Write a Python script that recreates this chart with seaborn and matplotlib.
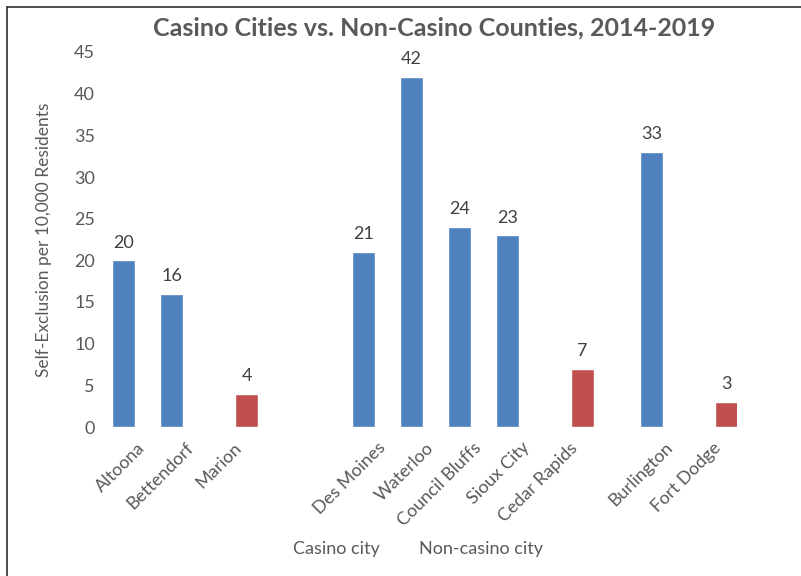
import matplotlib
matplotlib.use("Agg")
import matplotlib.pyplot as plt
from matplotlib.lines import Line2D
import pandas as pd
import seaborn as sns

# Self-exclusion rates per 10,000 residents, 2014-2019
cities = ["Altoona", "Bettendorf", "Marion", "Des Moines", "Waterloo",
          "Council Bluffs", "Sioux City", "Cedar Rapids", "Burlington", "Fort Dodge"]
rates = [20, 16, 4, 21, 42, 24, 23, 7, 33, 3]
city_types = ["Casino city", "Casino city", "Non-casino city", "Casino city", "Casino city",
              "Casino city", "Casino city", "Non-casino city", "Casino city", "Non-casino city"]

# Axis order, with blank slots separating the county groups
axis_order = ["Altoona", "Bettendorf", "Marion", " ", "  ", "Des Moines", "Waterloo",
              "Council Bluffs", "Sioux City", "Cedar Rapids", "   ", "Burlington", "Fort Dodge"]
type_order = ["Casino city", "Non-casino city"]
y_ticks = [0, 5, 10, 15, 20, 25, 30, 35, 40, 45]

BLUE = "#4F81BD"
RED = "#C0504D"
GREY = "#595959"
DARK = "#404040"

sns.set_theme(style="white")
plt.rcParams["font.family"] = ["Lato", "DejaVu Sans"]

df = pd.DataFrame({"city": cities, "rate": rates, "type": city_types})

fig = plt.figure(figsize=(8.01, 5.76), dpi=100)
W, H = 801, 576
ax = fig.add_axes([113 / W, (H - 427) / H, 624 / W, 375 / H])

sns.barplot(data=df, x="city", y="rate", hue="type", order=axis_order,
            hue_order=type_order, palette=[BLUE, RED], saturation=1, dodge=True,
            width=1.125, gap=0.185, errorbar=None, legend=True, ax=ax)

for cont in ax.containers:
    ax.bar_label(cont, fmt="%d", padding=7, fontsize=13, color=DARK)

ax.set_xlim(-0.5, len(axis_order) - 0.5)
ax.set_ylim(0, 45)
ax.set_yticks(y_ticks)
ax.set_yticklabels([str(v) for v in y_ticks], fontsize=13, color=GREY)
ax.tick_params(axis="y", length=0, pad=13)
ax.tick_params(axis="x", length=0, pad=9)
ax.set_xticks(range(len(axis_order)))
ax.set_xticklabels(axis_order, rotation=45, ha="right", va="top",
                   rotation_mode="anchor", fontsize=13, color=GREY)
for s in ax.spines.values():
    s.set_visible(False)
ax.grid(False)
ax.set_xlabel("")
ax.set_ylabel("Self-Exclusion per 10,000 Residents", fontsize=12.5, color=GREY)
ax.yaxis.set_label_coords((52 - 113) / 624, 0.5)

# Legend with text entries only
handles, labels = ax.get_legend_handles_labels()
ax.get_legend().remove()
leg = fig.legend(handles, labels, ncol=2, loc="center",
                 bbox_to_anchor=(418 / W, 1 - 549 / H), frameon=False,
                 handlelength=0, handletextpad=0, columnspacing=2.15,
                 fontsize=13)
for h in leg.legend_handles:
    h.set_visible(False)
for t in leg.get_texts():
    t.set_color(GREY)

fig.text(434 / W, 1 - 28 / H, "Casino Cities vs. Non-Casino Counties, 2014-2019",
         ha="center", va="center", fontsize=18, fontweight="bold", color=GREY)

# Chart frame
fig.add_artist(Line2D([6.5 / W, 6.5 / W], [0, 1 - 6.5 / H], color="#303030", lw=1.2,
                      transform=fig.transFigure))
fig.add_artist(Line2D([6.5 / W, 1], [1 - 6.5 / H, 1 - 6.5 / H], color="#303030", lw=1.2,
                      transform=fig.transFigure))

fig.savefig("out.png", dpi=100)
